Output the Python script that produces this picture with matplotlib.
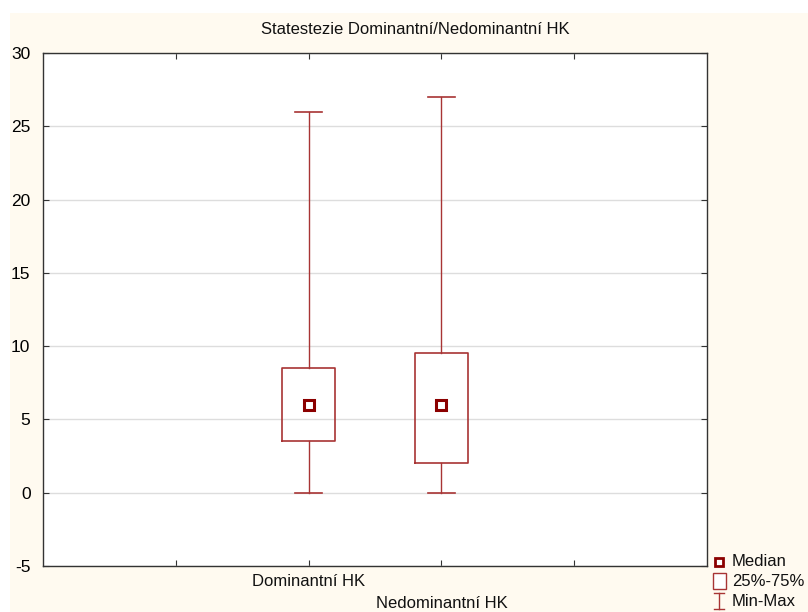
import matplotlib
matplotlib.use('Agg')
import matplotlib.pyplot as plt
from matplotlib.patches import Rectangle
from matplotlib.lines import Line2D

plt.rcParams['font.family'] = ['Liberation Sans', 'DejaVu Sans']
plt.rcParams['axes.unicode_minus'] = False

# data
categories = ['Dominantní HK', 'Nedominantní HK']
medians = [6, 6]
q1 = [3.5, 2]
q3 = [8.5, 9.5]
mins = [0, 0]
maxs = [26, 27]

line_col = '#a83434'
med_col = '#8b0000'

fig = plt.figure(figsize=(8.08, 6.12), dpi=100)
fig.patch.set_facecolor('white')
# cream panel behind the plot
fig.add_artist(Rectangle((10 / 808, 0), 798 / 808, 1 - 13 / 612,
                         transform=fig.transFigure, facecolor='#fffaf0',
                         edgecolor='none', zorder=-10))

ax = fig.add_axes([43 / 808, 1 - 566 / 612, 664 / 808, 513 / 612])
ax.set_facecolor('white')

pos = list(range(len(categories)))
stats = []
for i in pos:
    stats.append({'med': medians[i], 'q1': q1[i], 'q3': q3[i],
                  'whislo': mins[i], 'whishi': maxs[i], 'fliers': []})

ax.bxp(stats, positions=pos, widths=0.4, capwidths=0.2, showfliers=False,
       boxprops=dict(color=line_col, linewidth=1.2),
       whiskerprops=dict(color=line_col, linewidth=1.0),
       capprops=dict(color=line_col, linewidth=1.2),
       medianprops=dict(linewidth=0))
ax.plot(pos, medians, linestyle='none', marker='s', markersize=7,
        markerfacecolor='white', markeredgecolor=med_col, markeredgewidth=2.2,
        zorder=5)

ax.set_xlim(-2, 3)
ax.set_ylim(-5, 30)
ax.set_yticks(range(-5, 31, 5))
ax.set_xticks([-1, 0, 1, 2])
ax.set_xticklabels([])
ax.yaxis.grid(True, color='#dddddd', linewidth=1)
ax.set_axisbelow(True)
ax.tick_params(axis='both', direction='in', top=True, right=True, length=4,
               color='#333333', labelsize=12.5, pad=9)
for s in ax.spines.values():
    s.set_color('#333333')
    s.set_linewidth(1.0)

# staggered category labels
offsets = [-16, -38]
for i, name in enumerate(categories):
    ax.annotate(name, xy=(pos[i], 0), xycoords=('data', 'axes fraction'),
                xytext=(0, offsets[i]), textcoords='offset pixels',
                ha='center', va='center', fontsize=12, color='#111111')

fig.text(415 / 808, 1 - 30 / 612,
         'Statestezie Dominantní/Nedominantní HK', ha='center', va='center',
         fontsize=12, color='#111111')

# legend drawn in figure pixels
def fx(x):
    return x / 808

def fy(y):
    return 1 - y / 612

fig.add_artist(Line2D([fx(719)], [fy(562)], marker='s', markersize=6,
                      markerfacecolor='white', markeredgecolor=med_col,
                      markeredgewidth=2, transform=fig.transFigure))
fig.add_artist(Rectangle((fx(713), fy(589)), 13 / 808, 16 / 612,
                         transform=fig.transFigure, facecolor='white',
                         edgecolor=line_col, linewidth=1))
fig.add_artist(Line2D([fx(719), fx(719)], [fy(593), fy(609)], color=line_col,
                      linewidth=1, transform=fig.transFigure))
fig.add_artist(Line2D([fx(714), fx(724)], [fy(593), fy(593)], color=line_col,
                      linewidth=1, transform=fig.transFigure))
fig.add_artist(Line2D([fx(714), fx(724)], [fy(609), fy(609)], color=line_col,
                      linewidth=1, transform=fig.transFigure))
for label, y in [('Median', 562), ('25%-75%', 581), ('Min-Max', 601)]:
    fig.text(fx(732), fy(y), label, ha='left', va='center', fontsize=12,
             color='#111111')

fig.savefig('out.png', dpi=100, facecolor=fig.get_facecolor())
